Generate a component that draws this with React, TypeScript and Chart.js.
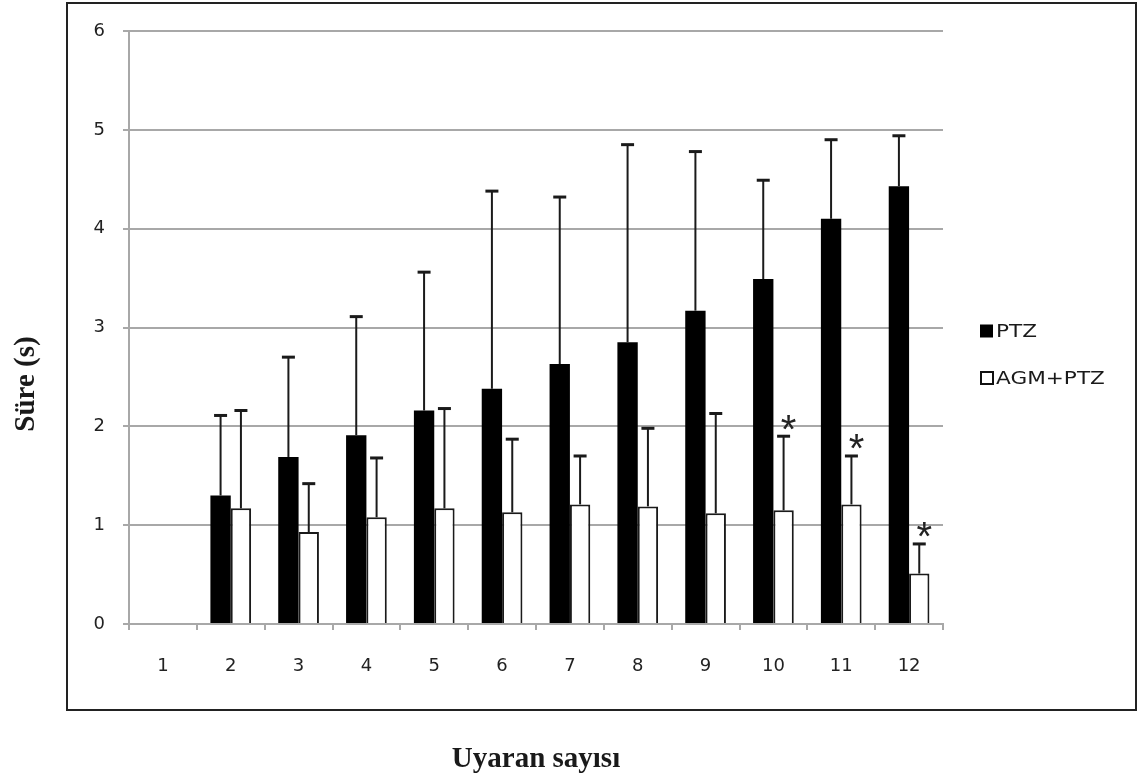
import React, { useEffect, useRef } from "react";
import { Chart, registerables } from "chart.js";

Chart.register(...registerables);

const categories = ["1", "2", "3", "4", "5", "6", "7", "8", "9", "10", "11", "12"];
const seriesNames = ["PTZ", "AGM+PTZ"];
const ptzMeans = [null, 1.3, 1.69, 1.91, 2.16, 2.38, 2.63, 2.85, 3.17, 3.49, 4.1, 4.43];
const ptzUpper = [null, 2.11, 2.7, 3.11, 3.56, 4.38, 4.32, 4.85, 4.78, 4.49, 4.9, 4.94];
const agmMeans = [null, 1.17, 0.93, 1.08, 1.17, 1.13, 1.21, 1.19, 1.12, 1.15, 1.21, 0.51];
const agmUpper = [null, 2.16, 1.42, 1.68, 2.18, 1.87, 1.7, 1.98, 2.13, 1.9, 1.7, 0.81];
const agmMarks = ["", "", "", "", "", "", "", "", "", "*", "*", "*"];
const yMin = 0;
const yMax = 6;
const yStep = 1;
const yTitle = "Süre (s)";
const xTitle = "Uyaran sayısı";

const upperBySeries = [ptzUpper, agmUpper];
const marksBySeries = [null, agmMarks];

const decorPlugin = {
  id: "decor",
  afterDatasetsDraw(chart: any) {
    const ctx = chart.ctx;
    const yScale = chart.scales.y;
    ctx.save();
    chart.data.datasets.forEach((_ds: any, i: number) => {
      const meta = chart.getDatasetMeta(i);
      const upper = upperBySeries[i];
      meta.data.forEach((el: any, j: number) => {
        const u = upper[j];
        if (u == null || chart.data.datasets[i].data[j] == null) return;
        const x = el.x;
        const yTop = yScale.getPixelForValue(u);
        ctx.strokeStyle = "#1a1a1a";
        ctx.lineWidth = 2;
        ctx.beginPath();
        ctx.moveTo(x, el.y);
        ctx.lineTo(x, yTop);
        ctx.stroke();
        ctx.lineWidth = 3;
        ctx.beginPath();
        ctx.moveTo(x - 6.5, yTop);
        ctx.lineTo(x + 6.5, yTop);
        ctx.stroke();
        const marks = marksBySeries[i];
        if (marks && marks[j]) {
          ctx.font = "40px 'Liberation Sans'";
          ctx.fillStyle = "#222";
          ctx.textAlign = "center";
          ctx.textBaseline = "alphabetic";
          const m = ctx.measureText(marks[j]);
          const off = (m.actualBoundingBoxAscent - m.actualBoundingBoxDescent) / 2;
          ctx.fillText(marks[j], x + 5, yTop - 14 + off);
        }
      });
    });
    ctx.restore();
  },
  afterDraw(chart: any) {
    const ctx = chart.ctx;
    ctx.save();
    ctx.strokeStyle = "#222";
    ctx.lineWidth = 2;
    ctx.strokeRect(67, 3, 1069, 707);

    const lx = 980;
    const rows = [331, 378];
    seriesNames.forEach((name, i) => {
      const cy = rows[i];
      if (i === 0) {
        ctx.fillStyle = "#000";
        ctx.fillRect(lx, cy - 6.5, 13, 13);
      } else {
        ctx.strokeStyle = "#111";
        ctx.lineWidth = 2;
        ctx.fillStyle = "#fff";
        ctx.fillRect(lx + 1, cy - 6, 12, 12);
        ctx.strokeRect(lx + 1, cy - 6, 12, 12);
      }
      ctx.save();
      ctx.translate(lx + 16, cy);
      ctx.scale(1.2, 1);
      ctx.fillStyle = "#1a1a1a";
      ctx.font = "18px 'DejaVu Sans'";
      ctx.textAlign = "left";
      ctx.textBaseline = "middle";
      ctx.fillText(name, 0, 1);
      ctx.restore();
    });

    ctx.fillStyle = "#1a1a1a";
    ctx.font = "bold 29px 'Liberation Serif'";
    ctx.textAlign = "center";
    ctx.textBaseline = "alphabetic";
    ctx.fillText(xTitle, 536, 767);

    ctx.save();
    ctx.translate(34, 384);
    ctx.rotate(-Math.PI / 2);
    ctx.fillText(yTitle, 0, 0);
    ctx.restore();

    ctx.restore();
  },
};

export default function App() {
  const ref = useRef<HTMLCanvasElement | null>(null);

  useEffect(() => {
    if (!ref.current) return;
    const chart = new Chart(ref.current, {
      type: "bar",
      data: {
        labels: categories,
        datasets: [
          {
            label: seriesNames[0],
            data: ptzMeans as any,
            backgroundColor: "#000",
            borderColor: "#000",
            borderWidth: 0,
            categoryPercentage: 0.6,
            barPercentage: 1.0,
          },
          {
            label: seriesNames[1],
            data: agmMeans as any,
            backgroundColor: "#fff",
            borderColor: "#1a1a1a",
            borderWidth: 2,
            categoryPercentage: 0.6,
            barPercentage: 1.0,
          },
        ],
      },
      options: {
        responsive: false,
        animation: false,
        layout: { padding: { left: 68, top: 31, right: 198, bottom: 92 } },
        plugins: {
          legend: { display: false },
          tooltip: { enabled: false },
          title: { display: false },
        },
        scales: {
          x: {
            grid: {
              offset: true,
              drawOnChartArea: false,
              drawTicks: true,
              tickLength: 6,
              color: "#a8a8a8",
              lineWidth: 2,
            },
            border: { display: true, color: "#a8a8a8", width: 2 },
            ticks: {
              color: "#222",
              font: { family: "DejaVu Sans", size: 18 },
              padding: 26,
              maxRotation: 0,
            },
            afterFit: (scale: any) => {
              scale.height = 60;
            },
          },
          y: {
            min: yMin,
            max: yMax,
            grid: {
              color: "#a8a8a8",
              lineWidth: 2,
              tickLength: 6,
            },
            border: { display: true, color: "#a8a8a8", width: 2 },
            ticks: {
              stepSize: yStep,
              color: "#222",
              font: { family: "DejaVu Sans", size: 18 },
              padding: 18,
            },
            afterFit: (scale: any) => {
              scale.width = 61;
            },
          },
        },
      },
      plugins: [decorPlugin],
    });
    return () => chart.destroy();
  }, []);

  return (
    <div style={{ position: "absolute", left: 0, top: 0, width: 1141, height: 776, background: "#fff" }}>
      <canvas ref={ref} width={1141} height={776} style={{ display: "block" }} />
    </div>
  );
}
